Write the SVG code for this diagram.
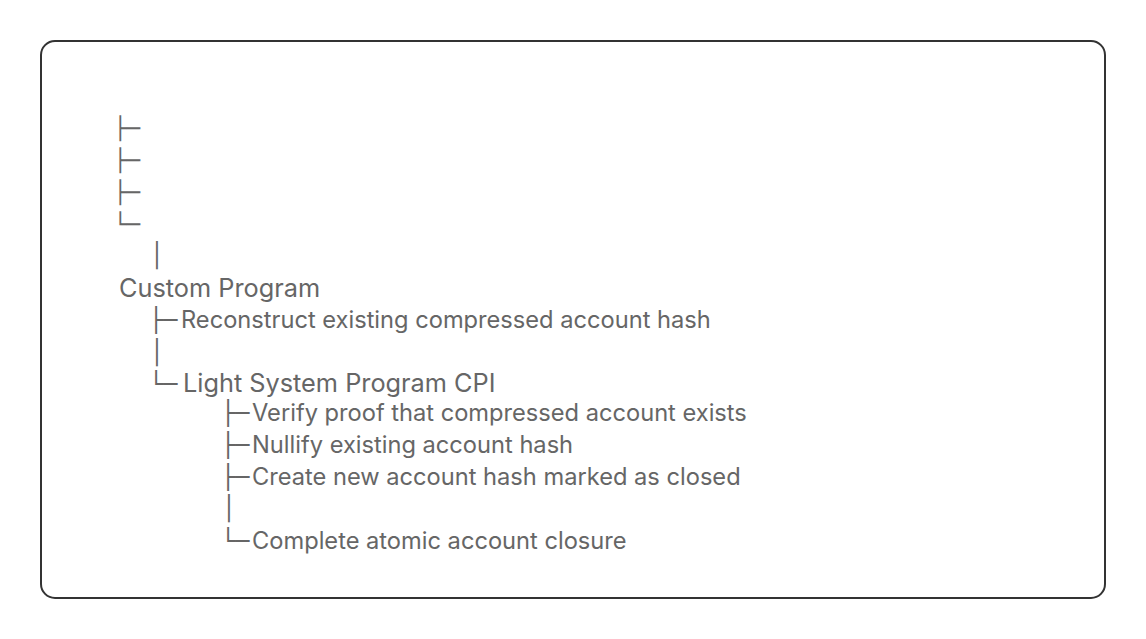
<svg xmlns="http://www.w3.org/2000/svg" width="1146" height="639" viewBox="0 0 1146 639">
<style>
.frame{fill:#fff;stroke:#333;stroke-width:2}
.t{font-family:Inter,"Liberation Sans",sans-serif;font-size:23.65px;fill:#666}
.h{font-family:Inter,"Liberation Sans",sans-serif;font-size:25.3px;fill:#666}
.b{font-family:"DejaVu Sans Mono",monospace;font-size:22px;fill:#666}
.b2{font-family:"DejaVu Sans Mono",monospace;font-size:23.65px;fill:#666}
</style>
<rect width="1146" height="639" fill="#fff"/>
<rect class="frame" x="41" y="41" width="1064" height="557" rx="14"/>
<g id="connectors">
<text class="b" x="113.4" y="136">├─</text>
<text class="b" x="113.4" y="168">├─</text>
<text class="b" x="113.4" y="200">├─</text>
<text class="b" x="113.4" y="232">└─</text>
<text class="t" x="153" y="264">|</text>
<text class="b2" x="148.9" y="328">├─</text>
<text class="t" x="153" y="361">|</text>
<text class="b2" x="148.9" y="392">└─</text>
<text class="b2" x="220.9" y="421">├─</text>
<text class="b2" x="220.9" y="453">├─</text>
<text class="b2" x="220.9" y="485">├─</text>
<text class="t" x="225" y="517">|</text>
<text class="b2" x="220.9" y="549">└─</text>
</g>
<g id="custom-program"><text class="h" x="119" y="297">Custom Program</text></g>
<g id="reconstruct"><text class="t" x="181" y="328">Reconstruct existing compressed account hash</text></g>
<g id="light-system"><text class="h" x="183" y="392">Light System Program CPI</text></g>
<g id="verify"><text class="t" x="252" y="421">Verify proof that compressed account exists</text></g>
<g id="nullify"><text class="t" x="252" y="453">Nullify existing account hash</text></g>
<g id="create"><text class="t" x="252" y="485">Create new account hash marked as closed</text></g>
<g id="complete"><text class="t" x="252" y="549">Complete atomic account closure</text></g>
</svg>
